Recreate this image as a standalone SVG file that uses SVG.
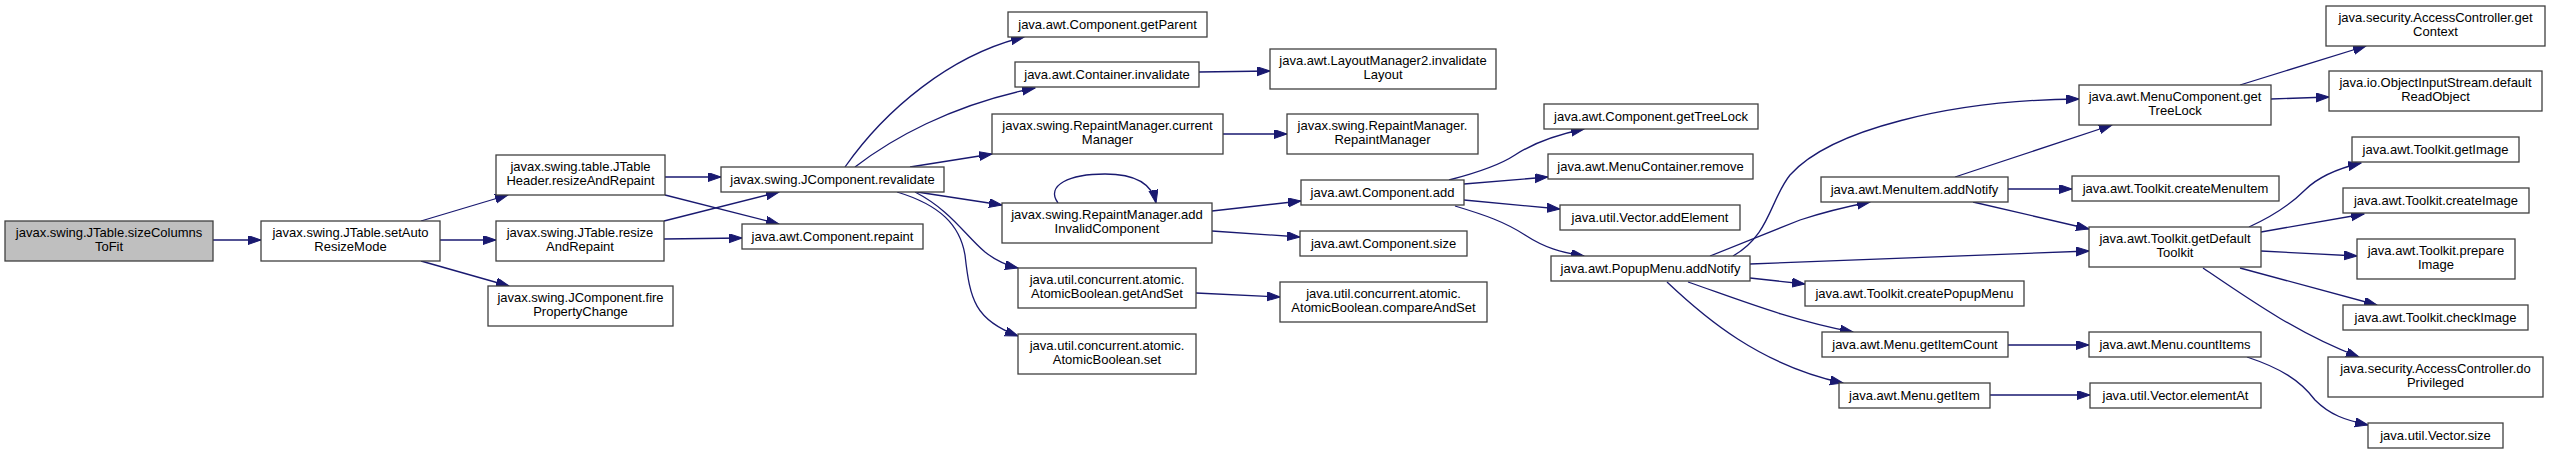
<svg xmlns="http://www.w3.org/2000/svg" width="2551" height="454" viewBox="0 0 2551 454">
<style>
.n rect{fill:#fff;stroke:#404040;stroke-width:1.3}
.root rect{fill:#bfbfbf}
.n text{font-family:"Liberation Sans",Arial,sans-serif;font-size:13px;fill:#000;text-anchor:middle}
.e path{fill:none;stroke:#191970;stroke-width:1.3;marker-end:url(#ah)}
</style>
<defs>
<marker id="ah" markerUnits="userSpaceOnUse" markerWidth="14" markerHeight="10" refX="13" refY="4.5" orient="auto">
<path d="M0,0 L13,4.5 L0,9 z" fill="#191970" stroke="#191970" stroke-width="1"/>
</marker>
</defs>
<rect width="2551" height="454" fill="#fff"/>
<g id="edges" class="e">
<path d="M213,240 L261,240"/>
<path d="M421,221 L508,195"/>
<path d="M440,240 L496,240"/>
<path d="M421,261 L509,286"/>
<path d="M665,177 L721,177"/>
<path d="M665,195 L779,224"/>
<path d="M664,221 L779,192"/>
<path d="M664,239 L742,238"/>
<path d="M845,167 C885,110 950,55 1024,37"/>
<path d="M855,167 C890,140 950,105 1035,88"/>
<path d="M910,167 L992,154"/>
<path d="M917,192 L1002,205"/>
<path d="M915,192 C950,210 965,235 985,252 C995,260 1005,265 1018,268"/>
<path d="M897,192 C940,205 960,225 965,255 C970,300 975,320 1018,336"/>
<path d="M1058,203 C1045,185 1070,174 1105,174 C1135,174 1152,183 1156,203"/>
<path d="M1223,134 L1287,134"/>
<path d="M1199,72 L1270,71"/>
<path d="M1212,211 L1301,201"/>
<path d="M1212,231 L1300,237"/>
<path d="M1196,293 L1280,297"/>
<path d="M1449,180 C1480,172 1500,165 1515,155 C1535,142 1560,134 1584,129"/>
<path d="M1464,184 L1548,177"/>
<path d="M1464,200 L1560,209"/>
<path d="M1455,206 C1485,215 1505,222 1525,235 C1545,248 1560,252 1584,256"/>
<path d="M1733,256 C1770,235 1770,200 1790,175 C1830,130 1950,100 2079,99"/>
<path d="M1710,256 C1750,240 1780,228 1800,220 C1830,210 1850,206 1870,202"/>
<path d="M1750,264 L2089,251"/>
<path d="M1750,278 L1805,284"/>
<path d="M1688,282 C1740,300 1790,320 1853,332"/>
<path d="M1667,282 C1705,318 1760,365 1843,383"/>
<path d="M1955,177 L2112,125"/>
<path d="M2008,189 L2072,189"/>
<path d="M1973,202 L2089,229"/>
<path d="M2008,345 L2089,345"/>
<path d="M1990,395 L2090,395"/>
<path d="M2240,85 L2366,46"/>
<path d="M2271,99 L2329,97"/>
<path d="M2249,227 C2280,213 2295,200 2305,190 C2320,175 2340,168 2361,163"/>
<path d="M2261,232 L2364,214"/>
<path d="M2261,251 L2357,256"/>
<path d="M2240,268 L2377,305"/>
<path d="M2203,268 C2250,300 2300,335 2359,357"/>
<path d="M2247,357 C2280,368 2300,380 2315,400 C2330,415 2345,420 2368,425"/>
</g>
<g id="n0" class="n root"><rect x="5" y="221" width="208" height="40"/><text x="109" y="237">javax.swing.JTable.sizeColumns</text><text x="109" y="251">ToFit</text></g>
<g id="n1" class="n"><rect x="261" y="221" width="179" height="40"/><text x="350.5" y="237">javax.swing.JTable.setAuto</text><text x="350.5" y="251">ResizeMode</text></g>
<g id="n2" class="n"><rect x="496" y="155" width="169" height="40"/><text x="580.5" y="171">javax.swing.table.JTable</text><text x="580.5" y="185">Header.resizeAndRepaint</text></g>
<g id="n3" class="n"><rect x="496" y="221" width="168" height="40"/><text x="580" y="237">javax.swing.JTable.resize</text><text x="580" y="251">AndRepaint</text></g>
<g id="n4" class="n"><rect x="488" y="286" width="185" height="40"/><text x="580.5" y="302">javax.swing.JComponent.fire</text><text x="580.5" y="316">PropertyChange</text></g>
<g id="n5" class="n"><rect x="721" y="167" width="223" height="25"/><text x="832.5" y="184">javax.swing.JComponent.revalidate</text></g>
<g id="n6" class="n"><rect x="742" y="224" width="181" height="25"/><text x="832.5" y="241">java.awt.Component.repaint</text></g>
<g id="n7" class="n"><rect x="1008" y="12" width="199" height="25"/><text x="1107.5" y="29">java.awt.Component.getParent</text></g>
<g id="n8" class="n"><rect x="1015" y="62" width="184" height="25"/><text x="1107" y="79">java.awt.Container.invalidate</text></g>
<g id="n9" class="n"><rect x="992" y="114" width="231" height="40"/><text x="1107.5" y="130">javax.swing.RepaintManager.current</text><text x="1107.5" y="144">Manager</text></g>
<g id="n10" class="n"><rect x="1002" y="203" width="210" height="40"/><text x="1107" y="219">javax.swing.RepaintManager.add</text><text x="1107" y="233">InvalidComponent</text></g>
<g id="n11" class="n"><rect x="1018" y="268" width="178" height="40"/><text x="1107" y="284">java.util.concurrent.atomic.</text><text x="1107" y="298">AtomicBoolean.getAndSet</text></g>
<g id="n12" class="n"><rect x="1018" y="334" width="178" height="40"/><text x="1107" y="350">java.util.concurrent.atomic.</text><text x="1107" y="364">AtomicBoolean.set</text></g>
<g id="n13" class="n"><rect x="1270" y="49" width="226" height="40"/><text x="1383" y="65">java.awt.LayoutManager2.invalidate</text><text x="1383" y="79">Layout</text></g>
<g id="n14" class="n"><rect x="1287" y="114" width="191" height="40"/><text x="1382.5" y="130">javax.swing.RepaintManager.</text><text x="1382.5" y="144">RepaintManager</text></g>
<g id="n15" class="n"><rect x="1301" y="180" width="163" height="25"/><text x="1382.5" y="197">java.awt.Component.add</text></g>
<g id="n16" class="n"><rect x="1300" y="231" width="167" height="25"/><text x="1383.5" y="248">java.awt.Component.size</text></g>
<g id="n17" class="n"><rect x="1280" y="282" width="207" height="40"/><text x="1383.5" y="298">java.util.concurrent.atomic.</text><text x="1383.5" y="312">AtomicBoolean.compareAndSet</text></g>
<g id="n18" class="n"><rect x="1544" y="104" width="214" height="25"/><text x="1651" y="121">java.awt.Component.getTreeLock</text></g>
<g id="n19" class="n"><rect x="1548" y="154" width="205" height="25"/><text x="1650.5" y="171">java.awt.MenuContainer.remove</text></g>
<g id="n20" class="n"><rect x="1560" y="205" width="180" height="25"/><text x="1650" y="222">java.util.Vector.addElement</text></g>
<g id="n21" class="n"><rect x="1551" y="256" width="199" height="25"/><text x="1650.5" y="273">java.awt.PopupMenu.addNotify</text></g>
<g id="n22" class="n"><rect x="1821" y="177" width="187" height="25"/><text x="1914.5" y="194">java.awt.MenuItem.addNotify</text></g>
<g id="n23" class="n"><rect x="1805" y="281" width="219" height="25"/><text x="1914.5" y="298">java.awt.Toolkit.createPopupMenu</text></g>
<g id="n24" class="n"><rect x="1822" y="332" width="186" height="25"/><text x="1915" y="349">java.awt.Menu.getItemCount</text></g>
<g id="n25" class="n"><rect x="1839" y="383" width="151" height="25"/><text x="1914.5" y="400">java.awt.Menu.getItem</text></g>
<g id="n26" class="n"><rect x="2079" y="85" width="192" height="40"/><text x="2175" y="101">java.awt.MenuComponent.get</text><text x="2175" y="115">TreeLock</text></g>
<g id="n27" class="n"><rect x="2072" y="176" width="207" height="25"/><text x="2175.5" y="193">java.awt.Toolkit.createMenuItem</text></g>
<g id="n28" class="n"><rect x="2089" y="227" width="172" height="40"/><text x="2175" y="243">java.awt.Toolkit.getDefault</text><text x="2175" y="257">Toolkit</text></g>
<g id="n29" class="n"><rect x="2089" y="332" width="172" height="25"/><text x="2175" y="349">java.awt.Menu.countItems</text></g>
<g id="n30" class="n"><rect x="2090" y="383" width="171" height="25"/><text x="2175.5" y="400">java.util.Vector.elementAt</text></g>
<g id="n31" class="n"><rect x="2326" y="6" width="219" height="40"/><text x="2435.5" y="22">java.security.AccessController.get</text><text x="2435.5" y="36">Context</text></g>
<g id="n32" class="n"><rect x="2329" y="71" width="213" height="40"/><text x="2435.5" y="87">java.io.ObjectInputStream.default</text><text x="2435.5" y="101">ReadObject</text></g>
<g id="n33" class="n"><rect x="2352" y="137" width="167" height="25"/><text x="2435.5" y="154">java.awt.Toolkit.getImage</text></g>
<g id="n34" class="n"><rect x="2343" y="188" width="186" height="25"/><text x="2436" y="205">java.awt.Toolkit.createImage</text></g>
<g id="n35" class="n"><rect x="2357" y="239" width="158" height="40"/><text x="2436" y="255">java.awt.Toolkit.prepare</text><text x="2436" y="269">Image</text></g>
<g id="n36" class="n"><rect x="2343" y="305" width="185" height="25"/><text x="2435.5" y="322">java.awt.Toolkit.checkImage</text></g>
<g id="n37" class="n"><rect x="2328" y="357" width="215" height="40"/><text x="2435.5" y="373">java.security.AccessController.do</text><text x="2435.5" y="387">Privileged</text></g>
<g id="n38" class="n"><rect x="2368" y="423" width="135" height="25"/><text x="2435.5" y="440">java.util.Vector.size</text></g>
</svg>
